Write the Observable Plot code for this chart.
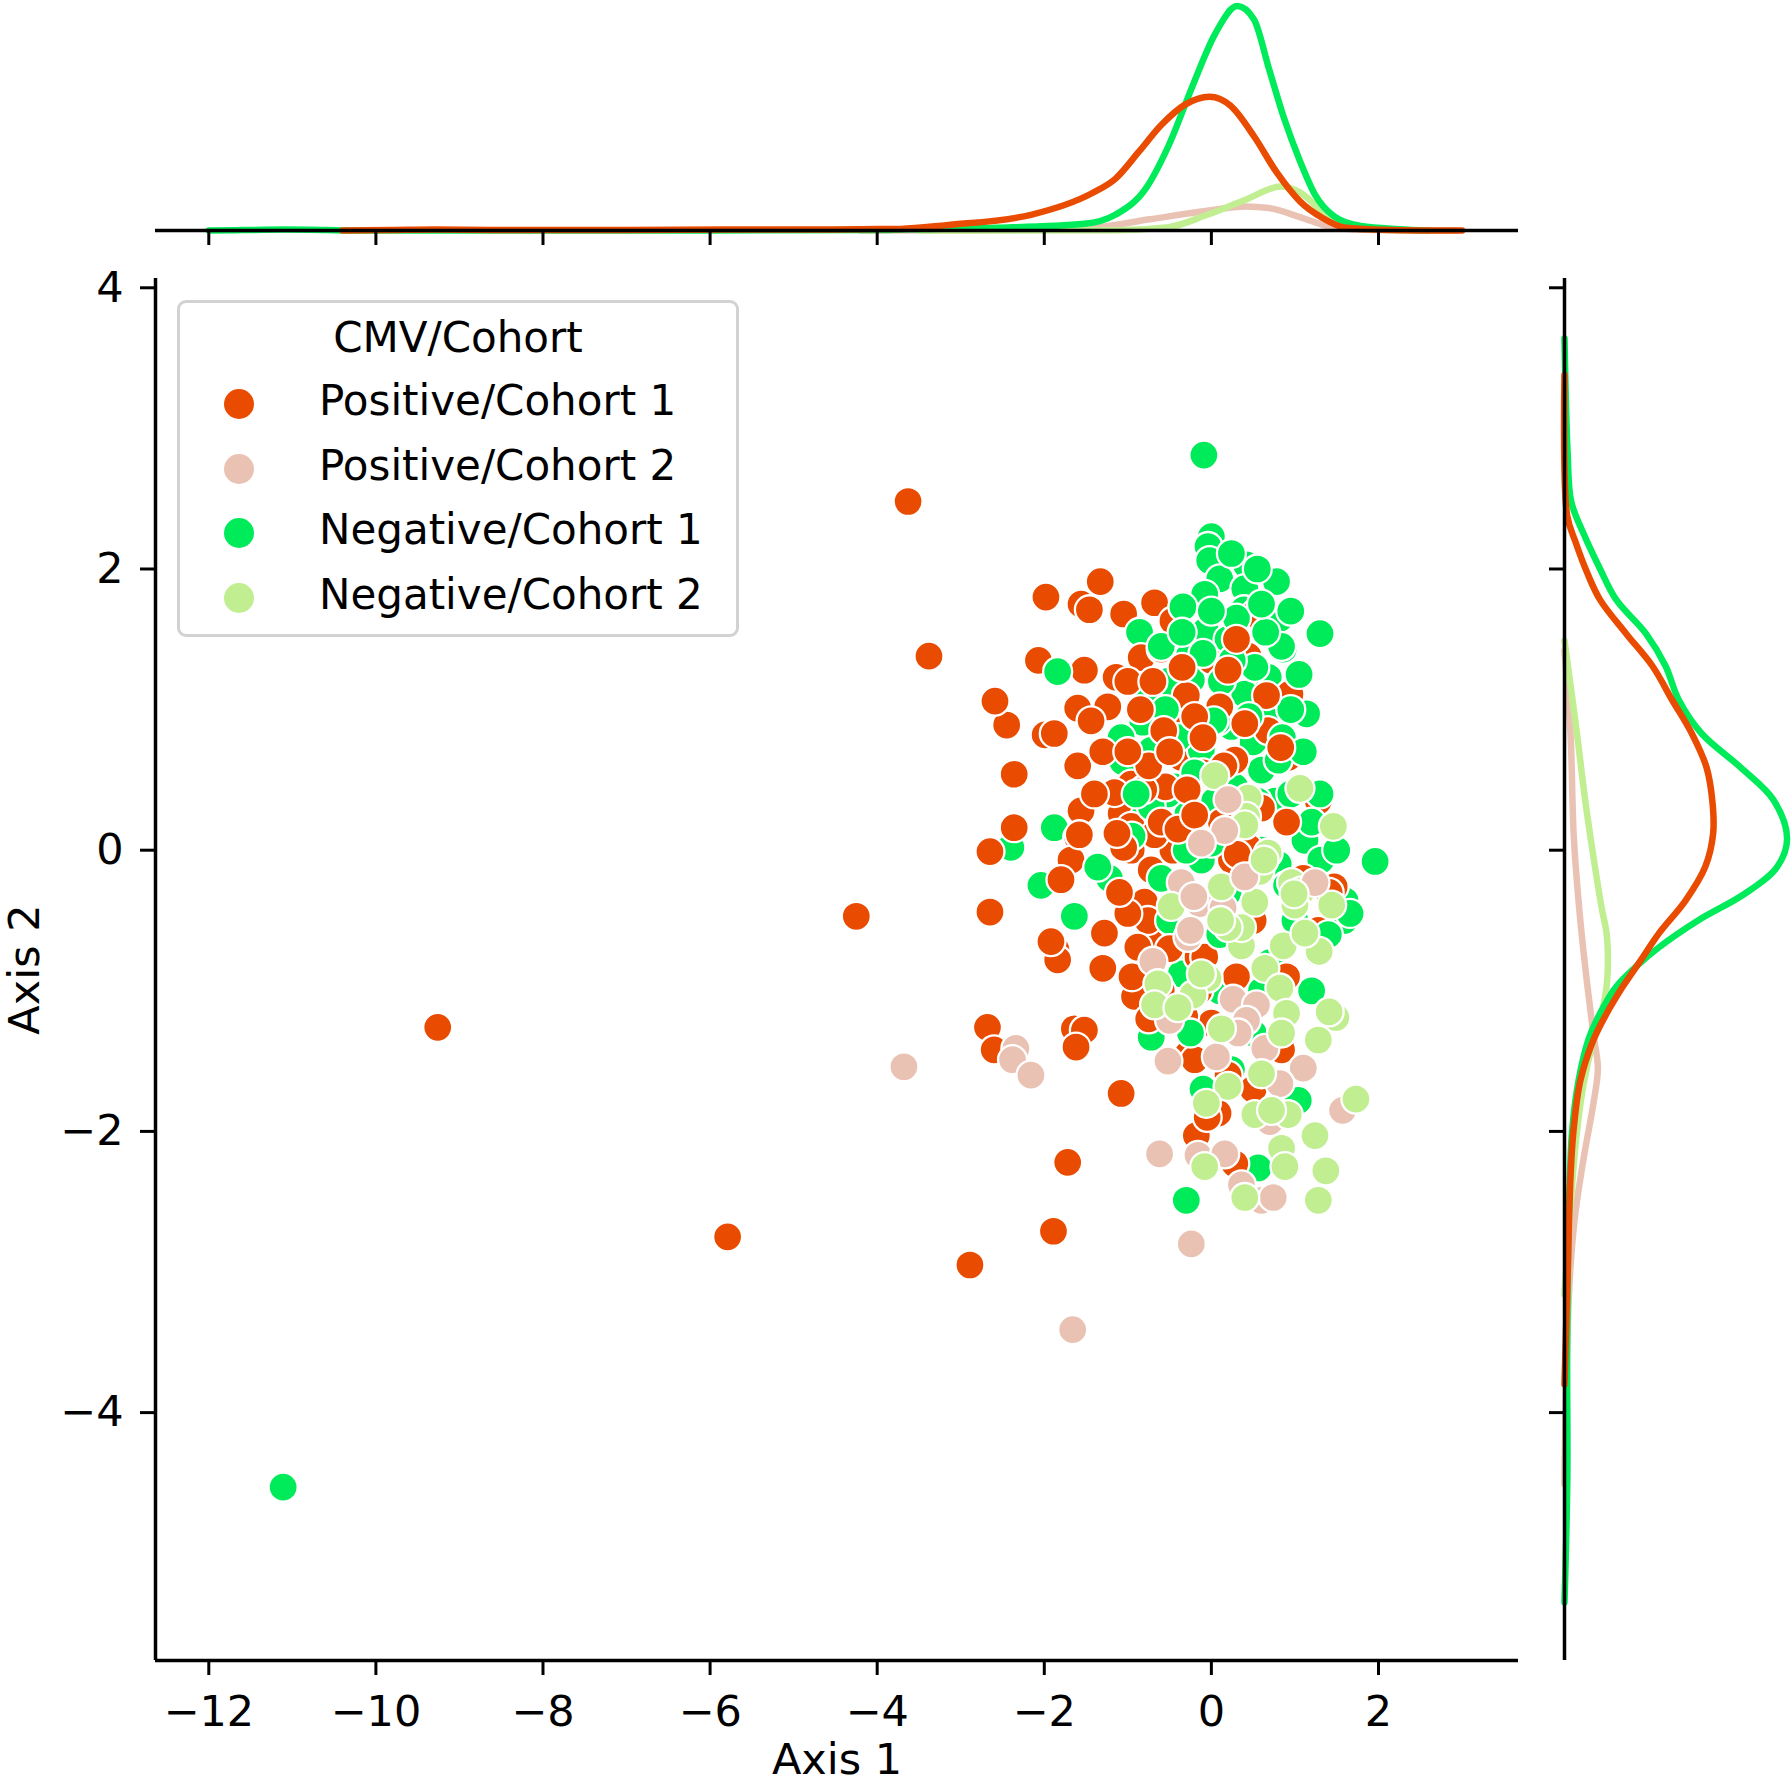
<!DOCTYPE html>
<html><head><meta charset="utf-8">
<script src="https://cdn.jsdelivr.net/npm/d3@7"></script>
<script src="https://cdn.jsdelivr.net/npm/@observablehq/plot@0.6"></script>
<style>
html,body{margin:0;padding:0;background:#fff;}
#wrap{position:relative;width:1791px;height:1787px;overflow:hidden;font-family:"DejaVu Sans";background:#fff;}
#wrap > *{position:absolute;}
.lg{box-sizing:border-box;border:3px solid #d2d2d2;border-radius:9px;background:rgba(255,255,255,0.85);font-family:"DejaVu Sans";font-size:42px;color:#000;}
.lg div{position:absolute;white-space:nowrap;line-height:1;}
.lg .sw{border-radius:50%;}
</style></head><body><div id="wrap"></div>
<script>
// ---- categories / styling lists ----
const groups = ["Positive/Cohort 1","Positive/Cohort 2","Negative/Cohort 1","Negative/Cohort 2"];
const colors = ["#e94b00","#e9c2b4","#00eb5a","#c1ee90"];
const legendTitle = "CMV/Cohort";
const xTicks = [-12,-10,-8,-6,-4,-2,0,2];
const yTicks = [-4,-2,0,2,4];
const xDomain = [-12.638, 3.676];
const yDomain = [-5.763, 4.066];

// ---- scatter points [axis1, axis2] ----
const pos1 = [[-3.63,2.48],[-3.38,1.38],[-4.25,-0.47],[-9.26,-1.26],[-5.79,-2.75],[-2.89,-2.95],[-1.89,-2.71],[-1.72,-2.22],[-1.08,-1.73],
[-1.98,1.80],[-1.33,1.91],[-1.56,1.75],[-1.46,1.71],[-1.05,1.68],[-0.68,1.76],[-0.46,1.63],
[-2.07,1.35],[-1.52,1.28],[-1.14,1.23],[-0.84,1.37],[-0.60,1.43],[0.00,1.35],[0.44,1.38],[-1.24,1.02],[-1.60,1.01],[-1.44,0.92],[-1.99,0.82],[-1.88,0.83],[-1.60,0.60],[-0.38,0.85],[-0.36,0.66],[-0.28,0.40],[0.94,1.11],[0.92,0.66],[0.80,0.88],[-2.36,0.54],[-2.45,0.89],[-2.59,1.06],[-1.56,0.28],[-2.36,0.16],[1.28,0.35],[-0.96,0.47],[-1.08,0.26],[-0.64,0.19],[0.28,0.64],[0.52,1.68],[-1.16,0.41],[-0.78,0.40],[0.68,0.85],[-0.96,0.17],[-1.60,0.09],[-1.68,-0.07],[-0.96,0.00],[-0.72,-0.14],[-0.46,0.00],[0.48,0.00],[0.24,-0.07],[-0.82,-0.36],[-1.28,-0.59],[-1.30,-0.84],[-1.86,-0.71],[-1.84,-0.78],[-0.72,-0.66],[1.28,-0.57],[-0.16,-0.76],
[-2.65,-0.01],[-1.58,0.11],[-1.80,-0.21],[-2.65,-0.44],[-1.92,-0.65],[-2.68,-1.26],[-2.60,-1.42],[-1.64,-1.27],[-1.52,-1.28],[-1.62,-1.40],[-0.18,-2.03],[0.08,-1.87],[0.28,-2.23],[-1.06,0.05],[-0.80,-0.37],[-0.76,-0.50],[-0.88,-0.69],[-0.92,-1.04],[-0.68,0.11],[-0.08,-0.76],[-0.28,-1.45],[-0.20,-1.49],[0.44,0.02],[1.47,-0.26],[0.00,-1.23],[0.84,-1.42],[1.41,-0.30],
[-0.30,1.10],[0.10,1.02],[-0.52,0.92],[-0.10,0.55],[0.12,0.20],[-0.40,-0.30],[0.60,0.30],[0.50,-0.50],[-0.60,-1.00],[-0.32,-1.18],[0.30,-0.90],[0.66,1.10],[0.20,1.28],[-0.20,0.95],[-1.30,0.70],[-1.00,-0.45],[-0.55,0.45],[-1.40,0.40],
[-0.57,0.85],[-0.29,0.43],[-0.81,0.43],[-1.05,0.02],[0.83,0.73],[-1.13,0.12],[0.31,-0.03],[-0.60,0.20],[-0.40,0.15],[-0.20,0.25],[-0.75,0.60],[-0.50,0.70],[-0.10,0.80],[0.15,0.60],[0.40,0.90],[-0.85,1.00],[-1.00,1.20],[-0.70,1.20],[-0.35,1.30],[0.30,1.50],[-0.95,-0.90],[-0.75,-1.20],[-0.50,-0.70],[-1.10,-0.30],[-1.00,0.70],[-0.15,-1.00],[0.20,-1.60],[-0.05,-1.90],[0.50,-1.70],[0.90,-0.90],[1.10,-0.20],[0.90,0.20]];

const neg1 = [[-11.11,-4.53],[-0.09,2.81],[0.00,2.23],[-0.04,2.16],[-0.02,2.06],[0.42,2.03],[0.10,1.93],[0.78,1.91],[0.24,2.11],[-0.08,1.82],[0.40,1.86],[0.39,1.71],[0.82,1.65],[1.30,1.54],[-0.86,1.55],[-0.07,1.56],[-0.34,1.73],[0.86,1.43],[-0.28,1.37],[-0.24,1.21],[0.40,1.11],[0.68,1.23],[1.14,0.97],[-0.76,1.07],[-0.82,0.91],[0.24,0.88],[0.50,0.77],[0.08,0.92],[-1.08,0.80],[-1.06,0.63],[-1.84,1.27],[-0.72,0.71],[0.60,0.57],[0.80,0.64],[1.08,0.14],[-1.88,0.16],[-2.40,0.02],[1.96,-0.08],[0.04,0.35],[-0.28,0.26],[0.28,0.45],[-0.44,0.45],[-0.80,0.24],[0.76,0.35],[0.68,0.92],[-0.12,0.71],[0.84,1.45],[-1.22,-0.20],[-1.64,-0.47],[1.12,0.07],[1.60,-0.36],[-0.52,0.40],[-0.72,0.31],[0.80,-0.10],[-0.12,-0.07],[-0.40,-0.69],[-2.04,-0.25],[-1.36,-0.12],[1.59,-0.50],[-0.36,-0.88],[-0.72,-1.33],[0.24,-1.56],[1.04,-1.78],[0.56,-2.26],[-0.30,-2.49],[1.31,-0.07],[1.27,-0.73],[1.66,-0.45],
[0.20,1.50],[0.52,1.30],[0.12,1.20],[-0.52,1.20],[0.30,0.10],[0.60,0.00],[0.95,0.40],[-0.30,0.00],[0.20,-0.30],[1.00,-0.50],[0.70,-0.80],[1.20,-1.00],[-0.50,-0.50],[0.10,-1.00],[0.50,-1.30],[-0.10,-1.70],[0.95,1.00],[0.55,2.00],[-0.60,1.45],[0.30,1.65],[1.05,1.25],[-0.95,0.10],[1.30,0.40],[-0.10,1.40],[0.65,1.55],
[0.03,0.92],[-0.40,0.80],[0.35,0.25],[0.55,0.35],[0.00,0.05],[-0.20,0.55],[-0.55,1.00],[-0.35,1.55],[0.00,1.70],[0.60,1.75],[0.25,1.35],[0.45,0.95],[0.85,0.80],[1.10,0.70],[1.20,0.20],[0.90,-0.25],[1.40,-0.60],[0.60,-1.00],[-0.25,-1.30],[-0.60,-0.20],[-0.90,0.40],[0.95,1.70],[0.10,-0.60],[1.50,0.00]];

const pos2 = [[-3.68,-1.54],[-2.34,-1.41],[-2.38,-1.49],[-2.16,-1.60],[-1.66,-3.41],[-0.70,-0.79],[-0.36,-0.23],[-0.14,-0.38],[0.14,-0.41],[0.16,0.14],[-0.12,0.05],[-0.28,-0.62],[-0.50,-1.21],[-0.52,-1.50],[0.06,-1.47],[0.26,-1.06],[0.54,-1.10],[0.42,-1.21],[0.32,-1.30],[0.64,-1.41],[1.10,-1.55],[0.82,-1.66],[0.70,-1.93],[1.57,-1.85],[-0.62,-2.16],[-0.16,-2.17],[0.16,-2.16],[0.36,-2.38],[0.60,-2.49],[0.74,-2.47],[-0.24,-2.80],[1.24,-0.23],[0.20,0.36],[0.40,-0.19],[-0.21,-0.33],[-0.25,-0.57]];

const neg2 = [[0.04,0.53],[1.06,0.44],[0.44,0.37],[0.42,0.24],[1.46,0.17],[0.40,0.18],[0.68,-0.02],[0.58,-0.15],[0.96,-0.23],[1.08,-0.29],[1.44,-0.39],[1.00,-0.39],[-0.48,-0.40],[0.12,-0.26],[0.52,-0.37],[0.36,-0.68],[0.86,-0.68],[1.29,-0.72],[0.64,-0.84],[-0.04,-0.91],[-0.64,-0.95],[-0.68,-1.10],[-0.22,-1.03],[0.82,-0.98],[0.90,-1.16],[1.49,-1.19],[1.28,-1.35],[0.84,-1.30],[0.12,-1.27],[0.60,-1.59],[0.20,-1.68],[-0.06,-1.80],[0.52,-1.88],[0.92,-1.88],[1.24,-2.03],[0.84,-2.12],[0.88,-2.25],[1.37,-2.28],[1.28,-2.49],[1.73,-1.77],[-0.08,-2.25],[0.40,-2.47],[0.72,-1.85],[1.12,-0.59],[0.36,-0.55],[0.20,-0.55],[-0.12,-0.88],[1.41,-1.15],[-0.40,-1.12],[0.63,-0.07],[0.99,-0.31],[0.11,-0.50]];

// ---- marginal density curves ----
// top margin: [axis1, density]
const pos1Top = [[-10.4,0],[-9.8,0.002],[-9.3,0.004],[-8.6,0.002],[-7.0,0.002],[-5.8,0.004],[-5.0,0.004],[-4.2,0.006],[-3.72,0.007],[-3.17,0.024],[-2.16,0.07],[-1.43,0.166],[-1.15,0.23],[-0.87,0.35],[-0.6,0.47],[-0.32,0.56],[-0.02,0.596],[0.23,0.556],[0.51,0.42],[0.78,0.26],[1.06,0.13],[1.33,0.056],[1.61,0.012],[2.02,0.003],[2.53,0],[3.0,0]];
const pos2Top = [[-4.2,0],[-3.0,0.001],[-2.34,0.003],[-1.43,0.012],[-0.74,0.05],[-0.05,0.088],[0.41,0.107],[0.69,0.1],[1.06,0.06],[1.43,0.015],[1.79,0.003],[2.4,0.0005],[2.94,0]];
const neg1Top = [[-12.0,0],[-11.6,0.002],[-11.1,0.004],[-10.6,0.002],[-10.3,0],[-9.0,0],[-6.0,0],[-4.0,0.002],[-3.7,0.005],[-2.57,0.012],[-1.52,0.03],[-1.15,0.07],[-0.78,0.19],[-0.51,0.38],[-0.23,0.64],[0.05,0.88],[0.31,1.0],[0.51,0.94],[0.69,0.72],[0.87,0.5],[1.06,0.31],[1.24,0.16],[1.47,0.063],[1.79,0.02],[2.25,0.006],[2.6,0]];
const neg2Top = [[-3.5,0],[-1.15,0.001],[-0.51,0.015],[-0.05,0.07],[0.41,0.137],[0.83,0.196],[1.06,0.17],[1.33,0.085],[1.61,0.024],[2.02,0.003],[2.5,0],[2.85,0]];
// right margin: [axis2, density]
const pos1Right = [[3.38,0],[2.38,0.012],[2.19,0.05],[1.98,0.1],[1.78,0.16],[1.54,0.277],[1.31,0.395],[1.07,0.483],[0.83,0.572],[0.59,0.638],[0.355,0.664],[0.12,0.668],[-0.12,0.632],[-0.36,0.543],[-0.59,0.425],[-0.78,0.344],[-0.97,0.262],[-1.16,0.19],[-1.35,0.13],[-1.64,0.071],[-2.0,0.04],[-2.32,0.027],[-2.96,0.015],[-3.80,0]];
const pos2Right = [[1.42,0],[0.83,0.027],[0.12,0.041],[-0.36,0.063],[-0.83,0.093],[-1.31,0.13],[-1.55,0.15],[-1.80,0.13],[-2.19,0.086],[-2.58,0.049],[-2.96,0.027],[-3.61,0.01],[-4.51,0]];
const neg1Right = [[3.64,0],[2.83,0.014],[2.48,0.03],[2.25,0.086],[2.0,0.16],[1.78,0.233],[1.54,0.366],[1.31,0.454],[1.07,0.513],[0.83,0.616],[0.59,0.79],[0.355,0.94],[0.08,1.0],[-0.12,0.955],[-0.31,0.81],[-0.5,0.6],[-0.69,0.425],[-0.83,0.32],[-0.97,0.233],[-1.16,0.16],[-1.35,0.107],[-1.64,0.063],[-2.0,0.034],[-2.64,0.019],[-3.61,0.012],[-4.44,0.013],[-5.35,0]];
const neg2Right = [[1.49,0],[0.83,0.056],[0.355,0.093],[-0.12,0.137],[-0.41,0.167],[-0.59,0.189],[-0.78,0.195],[-0.97,0.189],[-1.16,0.167],[-1.35,0.13],[-1.67,0.085],[-2.0,0.056],[-2.38,0.034],[-3.16,0]];

// ---- build tables ----
const rows = (arr, g) => arr.map(([x, y]) => ({x, y, g}));
function interleave(a, b) {
  const out = []; const n = Math.max(a.length, b.length);
  for (let i = 0; i < n; i++) { if (i < a.length) out.push(a[i]); if (i < b.length) out.push(b[i]); }
  return out;
}
const points = [...interleave(rows(pos1, groups[0]), rows(neg1, groups[2])),
                ...interleave(rows(pos2, groups[1]), rows(neg2, groups[3]))];
const topCurves = [[pos2Top,1],[neg2Top,3],[neg1Top,2],[pos1Top,0]].map(([a,i]) => a.map(([x,d]) => ({x, d, g: groups[i]})));
const rightCurves = [[pos2Right,1],[neg2Right,3],[neg1Right,2],[pos1Right,0]].map(([a,i]) => a.map(([y,d]) => ({y, d, g: groups[i]})));

const fmt = d => (d < 0 ? "\u2212" + Math.abs(d) : String(d));
const baseStyle = {fontFamily: "DejaVu Sans", fontSize: "43px", background: "transparent", color: "black", overflow: "visible"};
const colorScale = {domain: groups, range: colors};
const LW = 6.5;

const main = Plot.plot({
  width: 1540, height: 1547,
  marginLeft: 155, marginRight: 22, marginTop: 38, marginBottom: 127,
  style: baseStyle,
  x: {domain: xDomain},
  y: {domain: yDomain},
  color: colorScale,
  marks: [
    Plot.dot(points, {x: "x", y: "y", fill: "g", r: 14.5, stroke: "white", strokeWidth: 2.3}),
    Plot.ruleX([xDomain[0]], {strokeWidth: 3.5, stroke: "black"}),
    Plot.ruleY([yDomain[0]], {strokeWidth: 3.5, stroke: "black"}),
    Plot.axisX({ticks: xTicks, tickFormat: fmt, tickSize: 15, tickPadding: 20, strokeWidth: 3, label: "Axis 1", labelAnchor: "center", labelArrow: "none", labelOffset: 113}),
    Plot.axisY({ticks: yTicks, tickFormat: fmt, tickSize: 15, tickPadding: 17, strokeWidth: 3, label: "Axis 2", labelAnchor: "center", labelArrow: "none", labelOffset: 147})
  ]
});

const topPlot = Plot.plot({
  width: 1540, height: 246,
  marginLeft: 155, marginRight: 22, marginTop: 0, marginBottom: 16,
  style: baseStyle,
  x: {domain: xDomain},
  y: {domain: [0, 1.025], axis: null},
  color: colorScale,
  marks: [
    ...topCurves.map(c => Plot.line(c, {x: "x", y: "d", stroke: "g", strokeWidth: LW, curve: "monotone-x"})),
    Plot.ruleY([0], {strokeWidth: 3.5, stroke: "black"}),
    Plot.axisX({ticks: xTicks, tickFormat: () => "", tickSize: 15, strokeWidth: 3, label: null})
  ]
});

const rightPlot = Plot.plot({
  width: 251, height: 1547,
  marginLeft: 24, marginRight: 0, marginTop: 38, marginBottom: 127,
  style: baseStyle,
  x: {domain: [0, 1.02], axis: null},
  y: {domain: yDomain},
  color: colorScale,
  marks: [
    ...rightCurves.map(c => Plot.line(c, {x: "d", y: "y", stroke: "g", strokeWidth: LW, curve: "catmull-rom"})),
    Plot.ruleX([0], {strokeWidth: 3.5, stroke: "black"}),
    Plot.axisY({ticks: yTicks, tickFormat: () => "", tickSize: 15, strokeWidth: 3, label: null})
  ]
});

const wrap = document.getElementById("wrap");
main.style.left = "0px"; main.style.top = "240px"; main.style.position = "absolute";
topPlot.style.left = "0px"; topPlot.style.top = "0px"; topPlot.style.position = "absolute";
rightPlot.style.left = "1540px"; rightPlot.style.top = "240px"; rightPlot.style.position = "absolute";
wrap.appendChild(topPlot);
wrap.appendChild(rightPlot);
wrap.appendChild(main);

// legend (inside the main axes, upper left)
const lg = document.createElement("div");
lg.className = "lg";
Object.assign(lg.style, {left: "177px", top: "300px", width: "562px", height: "337px", position: "absolute"});
const t = document.createElement("div");
t.textContent = legendTitle;
Object.assign(t.style, {left: "0", width: "100%", textAlign: "center", top: "14px"});
lg.appendChild(t);
groups.forEach((g, i) => {
  const cy = 101 + i * 64.7;
  const sw = document.createElement("div");
  sw.className = "sw";
  Object.assign(sw.style, {left: (59 - 15) + "px", top: (cy - 15) + "px", width: "30px", height: "30px", background: colors[i]});
  lg.appendChild(sw);
  const tx = document.createElement("div");
  tx.textContent = g;
  Object.assign(tx.style, {left: "139px", top: (cy - 24) + "px"});
  lg.appendChild(tx);
});
wrap.appendChild(lg);
</script></body></html>
